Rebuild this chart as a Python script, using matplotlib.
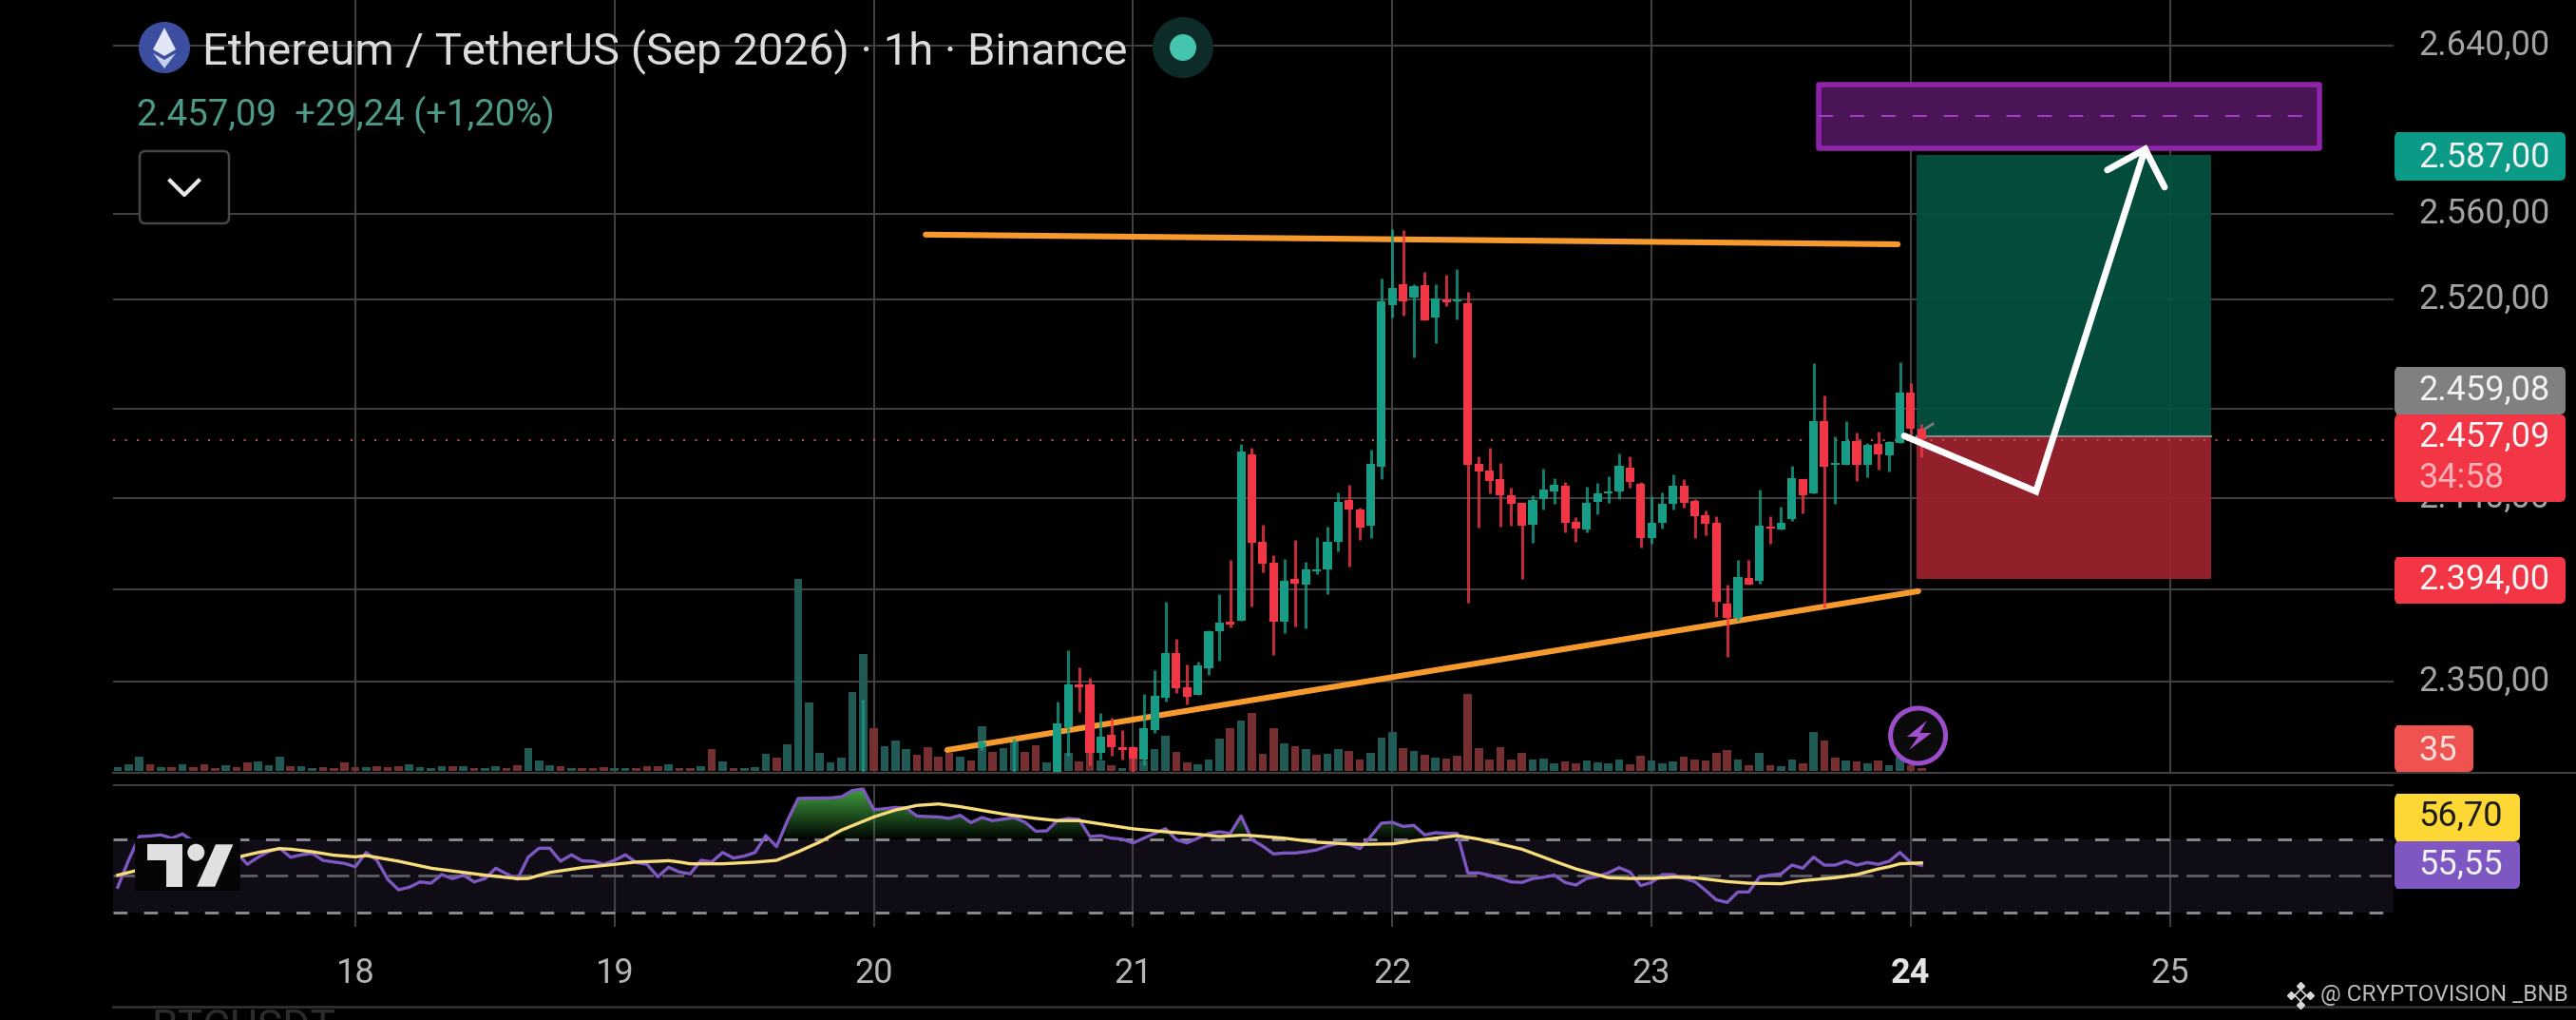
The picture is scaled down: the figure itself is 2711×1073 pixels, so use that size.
"""ETH/USDT 1h chart with trade setup, volume and RSI pane"""
import matplotlib
matplotlib.use('Agg')
import matplotlib.pyplot as plt
import numpy as np
from matplotlib.patches import Circle, FancyBboxPatch, Polygon, Rectangle
from matplotlib.path import Path

plt.rcParams['font.family'] = ['Roboto', 'DejaVu Sans']

# x is hours since the 18th 00:00
day_hours = [0, 24, 48, 72, 96, 120, 144, 168]
day_labels = ['18', '19', '20', '21', '22', '23', '24', '25']

grid_prices = [2636.8, 2560.2, 2521.2, 2471.5, 2430.8, 2389.3, 2347.3]
grid_labels = ['2.640,00', '2.560,00', '2.520,00', '2.480,00', '2.440,00', '2.400,00', '2.350,00']

candle_hours = [47, 58, 61] + list(range(65, 146))
candle_open = [2302, 2317.5, 2302,
               2305.8, 2326.3, 2345.8, 2346.0, 2314.9, 2323.2, 2317.3, 2317.3, 2311.8, 2325.3, 2339.7, 2360.2, 2344.6,
               2341.0, 2353.4, 2370.0, 2374.4, 2375.1, 2450.7, 2410.7, 2401.4, 2374.7, 2393.9, 2391.5, 2397.5, 2398.5,
               2410.7, 2429.8, 2425.6, 2418.4, 2445.2, 2518.8, 2528.2, 2521.9, 2527.5, 2512.8, 2521.0, 2520.2, 2519.3,
               2446.4, 2443.4, 2439.3, 2432.1, 2428.5, 2418.6, 2430.2, 2433.8, 2436.3, 2419.9, 2416.5, 2429.0, 2432.9,
               2433.6, 2444.7, 2437.4, 2412.4, 2419.6, 2428.1, 2436.2, 2429.5, 2422.8, 2419.6, 2382.8, 2376.3, 2394.3,
               2393.1, 2417.9, 2416.3, 2421.1, 2439.4, 2433.1, 2465.8, 2445.8, 2445.8, 2456.7, 2445.9, 2455.5, 2450.4,
               2456.0, 2478.6, 2462.2]
candle_close = [2304, 2319.5, 2304,
                2328.0, 2346.0, 2344.8, 2314.9, 2322.0, 2317.4, 2316.2, 2312.3, 2326.0, 2340.7, 2360.2, 2344.3, 2340.4,
                2354.6, 2370.3, 2374.1, 2373.0, 2452.1, 2410.5, 2401.1, 2374.7, 2393.1, 2392.0, 2398.2, 2398.4, 2410.7,
                2429.0, 2425.6, 2417.4, 2446.4, 2520.5, 2526.5, 2520.2, 2527.4, 2511.5, 2521.6, 2520.0, 2521.0, 2445.8,
                2443.0, 2438.4, 2431.9, 2428.0, 2418.4, 2430.0, 2434.5, 2436.7, 2419.6, 2417.0, 2428.5, 2432.8, 2433.8,
                2445.6, 2437.9, 2412.4, 2419.4, 2428.3, 2436.2, 2428.6, 2422.5, 2419.2, 2383.8, 2376.3, 2394.8, 2391.5,
                2418.2, 2416.7, 2419.7, 2439.8, 2432.2, 2465.8, 2445.1, 2446.6, 2456.7, 2445.8, 2455.0, 2450.7, 2456.2,
                2478.6, 2462.4, 2457.7]
candle_high = [2339.1, 2320.5, 2321.2,
               2338.3, 2361.4, 2353.7, 2348.9, 2332.8, 2331.0, 2325.1, 2317.8, 2341.7, 2352.3, 2383.5, 2366.5, 2354.9,
               2356.3, 2370.8, 2386.9, 2402.5, 2455.5, 2453.6, 2418.6, 2405.0, 2403.0, 2411.5, 2401.6, 2413.2, 2417.9,
               2433.3, 2437.0, 2426.4, 2452.9, 2530.6, 2553.0, 2552.7, 2528.2, 2533.7, 2528.1, 2532.3, 2535.1, 2524.6,
               2450.0, 2453.6, 2446.6, 2435.3, 2428.5, 2432.2, 2444.0, 2439.8, 2438.1, 2422.1, 2435.8, 2437.5, 2440.6,
               2450.9, 2449.7, 2437.9, 2431.6, 2433.3, 2441.5, 2439.3, 2430.4, 2425.1, 2422.7, 2391.3, 2402.5, 2402.5,
               2434.5, 2422.5, 2426.8, 2445.4, 2439.4, 2492.1, 2477.4, 2458.9, 2465.8, 2460.6, 2455.9, 2461.0, 2456.7,
               2492.5, 2483.1, 2464.6]
candle_low = [2300, 2316, 2300,
              2304.1, 2313.5, 2333.2, 2309.2, 2311.8, 2313.5, 2311.8, 2305.8, 2309.2, 2323.8, 2338.0, 2342.1, 2336.9,
              2341.0, 2350.3, 2356.8, 2371.7, 2375.1, 2381.4, 2396.8, 2359.2, 2369.1, 2372.5, 2371.5, 2396.1, 2387.2,
              2406.7, 2399.4, 2411.9, 2412.7, 2439.6, 2512.8, 2513.7, 2495.0, 2511.5, 2501.5, 2518.0, 2512.0, 2383.3,
              2417.2, 2432.8, 2417.7, 2418.2, 2393.9, 2410.5, 2425.7, 2428.1, 2415.0, 2410.7, 2415.0, 2423.3, 2428.5,
              2430.2, 2435.5, 2408.1, 2409.8, 2416.7, 2425.4, 2426.3, 2412.7, 2413.9, 2376.8, 2358.3, 2375.1, 2391.5,
              2392.0, 2410.0, 2416.3, 2420.4, 2423.9, 2433.1, 2381.1, 2428.3, 2445.8, 2438.7, 2440.1, 2443.9, 2442.7,
              2456.0, 2459.8, 2449.2]

# hour -22 up to hour 145, one row per day
volume = [4, 7, 15, 7, 4, 4, 7, 4, 7, 3, 6, 4, 9, 10, 6, 15, 5, 5, 3, 4, 3, 9,
          4, 4, 5, 4, 5, 7, 4, 3, 5, 5, 5, 3, 3, 5, 3, 6, 24, 11, 6, 5, 3, 3, 3, 4,
          3, 3, 3, 5, 5, 7, 3, 3, 5, 23, 10, 3, 3, 4, 18, 14, 28, 202, 72, 19, 9, 14, 83, 123,
          45, 26, 32, 23, 17, 25, 15, 19, 15, 11, 47, 20, 24, 31, 20, 27, 9, 30, 19, 10, 19, 11, 6, 3,
          13, 11, 23, 37, 20, 9, 7, 12, 34, 45, 53, 61, 18, 45, 29, 26, 23, 17, 18, 23, 21, 12, 19, 35,
          41, 24, 21, 17, 14, 13, 16, 81, 24, 12, 25, 12, 19, 12, 13, 8, 10, 8, 11, 9, 8, 12, 7, 16,
          11, 8, 10, 15, 12, 11, 19, 22, 12, 6, 19, 6, 5, 12, 8, 41, 32, 14, 11, 10, 8, 11, 6, 15,
          6, 3]
volume_dir = ('gggrgrgrrrgrrgggrggrrr'
              'rgrrrggggrgrggrrgggrgrrr'
              'ggrrrgrrgrgrgggrgggggggg'
              'rgggrrrrgrgrggrrgggrrgrg'
              'rgggrrgggrgrrrgrgrggrrgg'
              'grgrgrrrrrrrrgggrrggggrr'
              'gggrrrrrgrgrggrgrrgrgrgg'
              'rr')

rsi = [43.6, 58.3, 71.3, 71.6, 72.2, 70.4, 72.7, 68.7, 67.0, 64.4, 64.4, 62.6, 56.1, 60.0, 63.2, 64.9, 60.0, 61.3, 62.1, 58.3, 57.4, 56.6,
       54.8, 62.6, 58.3, 47.9, 42.2, 43.6, 46.5, 45.8, 50.5, 48.3, 50.2, 46.5, 48.3, 54.0, 50.9, 47.9, 60.0, 64.9, 64.9, 57.8, 61.3, 58.0, 57.8, 56.1,
       58.3, 61.3, 57.1, 56.1, 49.3, 54.5, 51.9, 50.9, 58.3, 57.4, 62.6, 59.5, 60.6, 62.6, 71.8, 65.8, 80.0, 92.1, 92.3, 92.3, 92.4, 93.0, 96.4, 97.3,
       86.0, 86.5, 87.2, 86.9, 82.5, 82.2, 82.0, 81.2, 82.9, 78.9, 81.7, 80.0, 80.8, 81.7, 79.1, 74.2, 74.4, 80.0, 81.2, 80.7, 71.3, 71.8, 70.4, 69.9,
       67.8, 70.4, 73.0, 75.6, 69.6, 67.8, 70.4, 73.0, 73.9, 73.0, 82.5, 69.6, 66.1, 61.8, 62.3, 62.3, 63.0, 64.0, 66.1, 67.5, 67.0, 64.7, 71.3, 78.6,
       79.1, 76.8, 77.4, 72.2, 73.4, 73.0, 73.0, 51.4, 51.4, 50.2, 48.4, 46.5, 46.2, 48.3, 49.1, 50.2, 46.2, 44.8, 48.4, 49.5, 51.4, 54.3, 51.9, 44.5,
       46.2, 50.5, 50.5, 48.4, 46.7, 41.9, 36.7, 35.3, 41.0, 41.0, 49.1, 50.2, 50.9, 55.7, 54.0, 60.0, 55.7, 55.7, 57.8, 55.7, 57.1, 56.1, 57.8, 62.6,
       57.1, 55.55]

ma_hours = [-22, -20, -18, -16, -14, -12, -11, -9, -7, -6, -4, -2, 0, 1, 4, 7, 10, 12, 15, 16, 18, 21, 24, 26, 28, 29, 30,
            31, 34, 37, 39, 41, 43, 45, 47, 48, 50, 52, 54, 56, 60, 63, 65, 67, 69, 72, 75, 78, 80, 82, 83,
            86, 89, 93, 96, 98, 100, 102, 104, 108, 111, 113, 116, 118,
            120, 122, 124, 127, 129, 132, 134, 137, 139, 141, 142, 143, 145]
ma_values = [50.2, 53.1, 54.5, 55.7, 57.1, 58.8, 59.9, 62.6, 64.7, 64.4, 63.0, 61.1, 60.2, 60.9, 57.8, 54.0, 51.7, 50.2, 48.3, 48.4, 51.7, 54.3, 56.1, 57.4, 57.8, 58.1, 57.4,
             56.4, 56.4, 57.3, 58.3, 63.0, 68.3, 74.8, 79.6, 82.0, 85.8, 88.3, 89.1, 87.6, 83.6, 81.2, 80.0, 80.0, 78.2, 75.5, 73.9, 72.5, 71.3, 72.0, 71.8,
             70.4, 68.2, 67.0, 67.3, 69.0, 70.4, 71.8, 69.9, 64.4, 57.8, 53.6, 48.8, 48.4,
             48.4, 49.1, 48.8, 46.7, 45.8, 45.5, 47.2, 48.8, 50.5, 53.6, 54.8, 56.4, 56.9]

last_price = 2457.09
entry_price = 2459.08
target_price = 2587.0
stop_price = 2394.0

resistance_x = [52.8, 142.8]
resistance_y = [2550.7, 2546.3]
support_x = [54.8, 144.7]
support_y = [2316.1, 2388.4]
path_x = [143.4, 155.6, 165.7]
path_y = [2459.1, 2433.8, 2589.6]
head_x = [162.2, 165.7, 167.5]
head_y = [2580.1, 2589.6, 2572.3]

W, H = 2711, 1073
BG = '#000000'
GRID = '#404040'
TEAL = '#179c85'
RED = '#f23645'
VOL_TEAL = '#235f5a'
VOL_RED = '#7d3234'


def px_axes(fig, x0, y0, x1, y1, **kw):
    return fig.add_axes([x0 / W, 1 - y1 / H, (x1 - x0) / W, (y1 - y0) / H], **kw)


def price_tag(ui, y0, y1, x1, color):
    ui.add_patch(FancyBboxPatch((2523, y0 + 3), x1 - 2523 - 3, y1 - y0 - 6, boxstyle='round,pad=3,rounding_size=6',
                                fc=color, ec='none', zorder=2))
    ui.add_patch(Rectangle((2522, y0), 12, y1 - y0, fc=color, ec='none', zorder=2))


fig = plt.figure(figsize=(W / 100, H / 100), dpi=100, facecolor=BG)

# main pane
ax = px_axes(fig, 119, 0, 2519, 813, facecolor=BG)
hours_min, hours_max = -22.43, 188.7
VOL_BASE = 2306.6
PRICE_PER_VOL = 0.4327
ax.set_xlim(hours_min, hours_max)
ax.set_ylim(2305.7, 2657.5)
for s in ax.spines.values():
    s.set_visible(False)
ax.set_xticks(day_hours)
ax.tick_params(axis='x', length=0, labelbottom=False)
ax.yaxis.tick_right()
ax.set_yticks(grid_prices)
ax.set_yticklabels(grid_labels, fontsize=26, color='#a3a3a3', va='center')
ax.tick_params(axis='y', length=0, pad=19)
ax.grid(color=GRID, lw=1.5, zorder=1)
ax.set_axisbelow(True)

# trade box
ax.fill_between([144.5, 171.8], entry_price, target_price, color='#04513f', alpha=0.95, lw=0, zorder=1.5)
ax.fill_between([144.5, 171.8], stop_price, entry_price, color='#98222c', alpha=0.96, lw=0, zorder=1.5)
ax.plot([144.5, 171.8], [entry_price, entry_price], color='#8a8a8a', lw=1.5, zorder=1.6)

# target zone
ax.fill_between([135.5, 181.8], 2590, 2619, facecolor='#4a1456', edgecolor='#8e24aa', lw=4, zorder=1.7)
ax.plot([135.5, 180.8], [2604.6, 2604.6], color='#a03cc0', lw=1.5, dashes=(7.2, 8.6), zorder=1.8)

ax.plot([hours_min, hours_max], [last_price, last_price], color='#c04e55', lw=1.5, ls=(0, (1, 5)), zorder=1.9)

vol_colors = [VOL_TEAL if d == 'g' else VOL_RED for d in volume_dir]
vol_hours = np.arange(-22, 146)
ax.bar(vol_hours, np.array(volume) * PRICE_PER_VOL, bottom=VOL_BASE, width=0.76, color=vol_colors, alpha=0.95, zorder=2)

ax.plot(resistance_x, resistance_y, color='#f79a2e', lw=4.4, solid_capstyle='round', zorder=3)
ax.plot(support_x, support_y, color='#f79a2e', lw=4.4, solid_capstyle='round', zorder=3)

for h, o, c, hi, lo in zip(candle_hours, candle_open, candle_close, candle_high, candle_low):
    col = TEAL if c >= o else RED
    ax.plot([h, h], [lo, hi], color=col, lw=2.2, alpha=0.8, solid_capstyle='butt', zorder=4)
    ax.bar(h, max(abs(c - o), 0.9), bottom=min(o, c), width=0.8, color=col, zorder=4.1)

ax.plot(path_x, path_y, color='white', lw=5, solid_capstyle='round', solid_joinstyle='miter', zorder=5)
ax.plot(head_x, head_y, color='white', lw=5, solid_capstyle='round', solid_joinstyle='miter', zorder=5)

# RSI pane
ar = px_axes(fig, 119, 825, 2519, 975, facecolor=BG)
ar.set_xlim(hours_min, hours_max)
ar.set_ylim(21.95, 99.87)
for s in ar.spines.values():
    s.set_visible(False)
ar.set_xticks(day_hours)
ar.set_xticklabels(day_labels, fontsize=26, color='#b4b4b4')
ar.get_xticklabels()[6].set_color('#e4e4e4')
ar.get_xticklabels()[6].set_fontweight('bold')
ar.set_yticks([])
ar.tick_params(axis='x', length=0, pad=22)
ar.grid(axis='x', color=GRID, lw=1.5, zorder=1)
ar.set_axisbelow(True)
ar.axhline(99.6, color=GRID, lw=1.5, zorder=1)
ar.fill_between([hours_min, hours_max], 30, 70, color='#100c16', lw=0, zorder=0.5)
ar.axhline(70, color='#8c8a94', lw=2.1, dashes=(5, 6), zorder=2)
ar.axhline(30, color='#8c8a94', lw=2.1, dashes=(5, 6), zorder=2)
ar.axhline(50, color='#5c5a62', lw=2.1, dashes=(8, 3), zorder=2)

rsi_hours = np.arange(-22, 146)
rsi_arr = np.array(rsi)
fill = ar.fill_between(rsi_hours, rsi_arr, 70, where=rsi_arr > 70, interpolate=True, facecolor='none', lw=0)
gradient = np.zeros((64, 2, 4))
gradient[:, :, 0] = 0.25
gradient[:, :, 1] = 0.62
gradient[:, :, 2] = 0.25
gradient[:, :, 3] = np.linspace(1, 0.03, 64)[:, None]
im = ar.imshow(gradient, extent=(hours_min, hours_max, 70, 97.3), aspect='auto', zorder=1.5)
im.set_clip_path(Path.make_compound_path(*fill.get_paths()), transform=ar.transData)
ar.set_xlim(hours_min, hours_max)
ar.set_ylim(21.95, 99.87)
ar.plot(rsi_hours, rsi_arr, color='#7e57c2', lw=2.4, zorder=3)
ar.plot(ma_hours, ma_values, color='#f7dc7a', lw=2.4, zorder=4)

# overlays in pixel space: legend header, price tags, logo, watermark
ui = fig.add_axes([0, 0, 1, 1], zorder=10)
ui.set_xlim(0, W)
ui.set_ylim(H, 0)
ui.axis('off')
ui.patch.set_alpha(0)

ui.plot([119, W], [813, 813], color=GRID, lw=1.5, zorder=1)
ui.plot([119, W], [1059, 1059], color='#303030', lw=2, zorder=1)
ui.text(159, 1061, 'BTCUSDT', fontsize=32, color='#2c2c2c', va='top', ha='left', clip_on=True)

ui.add_patch(Circle((173, 50), 27, fc='#3c4ea0', ec='none', zorder=3))
ui.add_patch(Polygon([(173, 29), (161, 52), (173, 59), (185, 52)], fc='#e2e7f7', ec='none', zorder=4))
ui.add_patch(Polygon([(161, 56), (173, 72), (185, 56), (173, 63)], fc='#c6cfee', ec='none', zorder=4))
ui.text(213, 54, 'Ethereum / TetherUS (Sep 2026) · 1h · Binance', fontsize=34, color='#dcdcdc', va='center', ha='left', zorder=4)
ui.add_patch(Circle((1245, 50), 32, fc='#0d2b28', ec='none', zorder=3))
ui.add_patch(Circle((1245, 50), 14, fc='#45c4ae', ec='none', zorder=4))
ui.text(144, 121, '2.457,09  +29,24 (+1,20%)', fontsize=27.6, color='#4c9a87', va='center', ha='left', zorder=4)

ui.add_patch(FancyBboxPatch((152, 164), 84, 66, boxstyle='round,pad=5,rounding_size=6', fc=BG, ec='#474747', lw=1.8, zorder=3))
ui.plot([179, 194, 209], [190, 205, 190], color='#e8e8e8', lw=3, zorder=4)

ui.plot([2026, 2034], [451, 446], color='#7a7a7a', lw=2, zorder=4)
ui.add_patch(Circle((2018.6, 774), 29, fc='#0b0b0b', ec='#9c4dcc', lw=3.6, zorder=3))
ui.add_patch(Polygon([(2028, 758), (2007, 775), (2018.6, 775), (2009, 789), (2032.7, 771), (2020.5, 771)],
                     fc='#a34fd0', ec='none', zorder=4))

price_tag(ui, 139, 190, 2700, '#0a9a85')
price_tag(ui, 386, 436, 2700, '#808080')
price_tag(ui, 436, 528, 2700, RED)
price_tag(ui, 586, 635, 2700, RED)
price_tag(ui, 763, 812, 2603, '#ef5350')
price_tag(ui, 835, 885, 2652, '#fdd835')
price_tag(ui, 885, 935, 2652, '#7e57c2')
tag_text = [(166, '2.587,00', '#f2f2f2'), (411, '2.459,08', '#f2f2f2'), (460, '2.457,09', '#f6f6f6'), (503, '34:58', '#fab0b6'),
            (610, '2.394,00', '#f6f6f6'), (790, '35', '#fbdcdc'), (859, '56,70', '#1c1c1c'), (910, '55,55', '#f2f2f2')]
for ty, txt, col in tag_text:
    ui.text(2545, ty, txt, fontsize=26, color=col, va='center', ha='left', zorder=4)

# tradingview logo
ui.add_patch(Rectangle((142, 882), 111, 55, fc='#050505', ec='none', zorder=2))
logo = '#e0e0e0'
ui.add_patch(Polygon([(155.4, 888.3), (191.7, 888.3), (191.7, 932.7), (174.5, 932.7), (174.5, 905), (155.4, 905)], fc=logo, ec='none', zorder=3))
ui.add_patch(Circle((206.3, 896.7), 9, fc=logo, ec='none', zorder=3))
ui.add_patch(Polygon([(226.9, 888.3), (245.3, 888.3), (226.2, 932.7), (207, 932.7)], fc=logo, ec='none', zorder=3))

# watermark
ui.plot([2421, 2411, 2431, 2421], [1037, 1047, 1047, 1057], ls='none', marker='D', ms=4.5, color='#d8d8d8', zorder=4)
ui.plot([2421], [1047], ls='none', marker='D', ms=6.5, mfc=BG, mec='#d8d8d8', mew=1.2, zorder=4)
ui.text(2442, 1047, '@ CRYPTOVISION _BNB', fontsize=17.5, color='#bdbdbd', va='center', ha='left', zorder=4)

fig.savefig('out.png', dpi=100, facecolor=BG)
plt.close()
